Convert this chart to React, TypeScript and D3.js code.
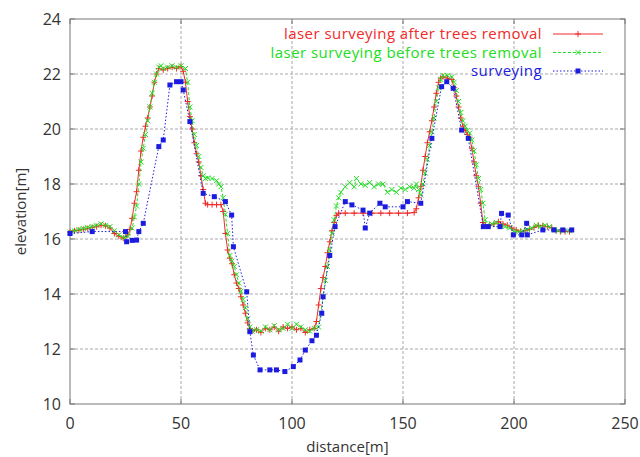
import React from 'react';
import * as d3 from 'd3';

const W = 640;
const H = 457;
const M = { left: 70, right: 15, top: 19, bottom: 53 };

const xTicks = [0, 50, 100, 150, 200, 250];
const yTicks = [10, 12, 14, 16, 18, 20, 22, 24];

// laser surveying after trees removal
const afterDist = [0, 2, 4, 6, 8, 10, 12, 14, 16, 18, 20, 22, 24, 26, 27, 28, 29, 30, 31, 32, 33, 34, 35, 36, 37, 38, 39, 40, 42, 44, 46, 48, 50, 51, 52, 53, 54, 55, 56, 57, 58, 59, 60, 61, 62, 64, 66, 68, 69, 70, 71, 72, 73, 74, 75, 76, 77, 78, 79, 80, 81, 82, 84, 86, 88, 90, 92, 94, 96, 98, 100, 102, 104, 106, 108, 110, 111, 112, 113, 114, 115, 116, 117, 118, 119, 120, 121, 124, 128, 132, 136, 140, 144, 148, 152, 155, 156, 157, 158, 159, 160, 161, 162, 163, 164, 165, 166, 167, 168, 170, 172, 173, 174, 175, 176, 177, 178, 179, 180, 181, 182, 183, 184, 185, 186, 187, 189, 191, 193, 195, 197, 199, 201, 203, 205, 207, 209, 211, 213, 215, 217, 219, 221, 223, 225];
const afterElev = [16.25, 16.3, 16.32, 16.35, 16.38, 16.42, 16.45, 16.5, 16.48, 16.4, 16.2, 16.1, 16.03, 16.15, 16.35, 16.75, 17.3, 17.72, 18.5, 19.2, 19.7, 20.1, 20.4, 20.8, 21.2, 21.7, 22.0, 22.2, 22.15, 22.2, 22.25, 22.2, 22.27, 22.1, 21.7, 21.0, 20.45, 20.0, 19.5, 19.1, 18.8, 18.3, 17.8, 17.3, 17.25, 17.25, 17.25, 17.25, 17.0, 16.2, 15.6, 15.3, 15.1, 14.7, 14.4, 14.2, 13.9, 13.6, 13.3, 12.95, 12.75, 12.65, 12.7, 12.6, 12.75, 12.7, 12.8, 12.65, 12.8, 12.75, 12.8, 12.7, 12.75, 12.6, 12.7, 12.75, 13.0, 13.6, 14.2, 14.6, 15.0, 15.5, 15.9, 16.3, 16.6, 16.85, 16.94, 16.94, 16.94, 16.94, 16.94, 16.94, 16.94, 16.94, 16.94, 16.96, 17.1, 17.5, 17.9, 18.5, 19.0, 19.5, 19.9, 20.3, 20.8, 21.3, 21.7, 21.85, 21.9, 21.85, 21.8, 21.5, 21.2, 20.8, 20.4, 20.1, 19.95, 19.8, 19.7, 19.3, 18.8, 18.3, 17.9, 17.3, 16.6, 16.5, 16.5, 16.55, 16.63, 16.55, 16.5, 16.4, 16.33, 16.27, 16.3, 16.35, 16.42, 16.5, 16.48, 16.45, 16.4, 16.3, 16.27, 16.27, 16.27];

// laser surveying before trees removal
const beforeDist = [0, 2, 4, 6, 8, 10, 12, 14, 16, 18, 20, 22, 24, 26, 28, 29, 30, 31, 32, 33, 34, 35, 36, 37, 38, 39, 40, 41, 42, 44, 46, 48, 50, 52, 53, 54, 55, 56, 57, 58, 59, 60, 61, 62, 64, 66, 67, 68, 69, 70, 71, 72, 73, 74, 75, 76, 77, 78, 79, 80, 81, 82, 84, 86, 88, 90, 92, 94, 96, 98, 100, 102, 104, 106, 108, 110, 112, 113, 114, 115, 116, 117, 118, 119, 120, 121, 122, 124, 126, 128, 129, 131, 133, 135, 137, 139, 141, 143, 145, 147, 149, 151, 153, 155, 156, 157, 158, 159, 160, 161, 162, 163, 164, 165, 166, 167, 168, 170, 172, 173, 174, 175, 176, 177, 178, 179, 180, 181, 182, 183, 184, 185, 186, 187, 188, 190, 192, 194, 196, 198, 200, 202, 204, 206, 208, 210, 212, 214, 216, 218, 220, 222, 225];
const beforeElev = [16.25, 16.3, 16.35, 16.38, 16.42, 16.45, 16.5, 16.55, 16.5, 16.45, 16.3, 16.15, 16.05, 16.1, 16.4, 16.8, 17.2, 18.0, 18.8, 19.3, 19.8, 20.3, 20.8, 21.3, 21.7, 22.0, 22.25, 22.3, 22.2, 22.25, 22.3, 22.25, 22.3, 22.2, 21.7, 20.8, 20.3, 19.8, 19.4, 19.0, 18.6, 18.3, 18.2, 18.22, 18.2, 18.12, 18.0, 17.9, 17.5, 16.9, 16.2, 15.4, 15.2, 15.0, 14.7, 14.4, 14.1, 13.8, 13.5, 13.1, 12.8, 12.65, 12.7, 12.65, 12.8, 12.7, 12.85, 12.7, 12.75, 12.9, 12.75, 12.9, 12.8, 12.7, 12.65, 12.75, 12.8, 13.3, 13.9, 14.5, 15.0, 15.6, 16.2, 16.7, 17.2, 17.5, 17.7, 17.9, 18.05, 17.9, 18.2, 18.0, 17.95, 18.05, 17.9, 18.0, 18.0, 17.7, 17.8, 17.7, 17.85, 17.8, 17.9, 17.85, 18.0, 17.8, 17.6, 18.0, 18.4, 18.9, 19.4, 19.9, 20.4, 21.0, 21.5, 21.8, 21.95, 21.95, 21.9, 21.7, 21.4, 21.0, 20.6, 20.3, 20.1, 19.95, 19.85, 19.6, 19.2, 18.7, 18.2, 17.8, 17.3, 16.7, 16.5, 16.55, 16.6, 16.5, 16.45, 16.4, 16.3, 16.25, 16.3, 16.35, 16.4, 16.5, 16.45, 16.5, 16.45, 16.35, 16.3, 16.3, 16.3];

// surveying
const surveyDist = [0, 10, 25, 25.5, 28, 30, 31, 33, 40, 42, 45, 48, 50, 51, 54, 60, 65, 70, 72.8, 73.6, 79.6, 81, 82.6, 85.6, 90, 93, 96.8, 100.6, 103.6, 106, 109, 111, 113.4, 114, 117, 119.4, 124, 127, 132, 133, 135, 139.6, 142, 150, 152, 158, 163, 167.4, 169.7, 172.6, 176.4, 179.4, 186.2, 188.4, 193.7, 194.4, 197.4, 199.7, 203.5, 205.7, 206, 213, 218, 222, 226];
const surveyElev = [16.2, 16.27, 16.27, 15.9, 15.95, 15.96, 16.27, 16.57, 19.36, 19.6, 21.6, 21.72, 21.72, 21.42, 20.27, 17.66, 17.54, 17.36, 16.87, 15.72, 14.08, 12.63, 11.78, 11.24, 11.24, 11.24, 11.18, 11.36, 11.6, 11.96, 12.3, 12.5, 13.3, 13.9, 15.4, 16.45, 17.36, 17.24, 17.05, 16.4, 16.94, 17.3, 17.17, 17.17, 17.36, 17.3, 19.66, 21.54, 21.72, 21.48, 19.96, 19.66, 16.45, 16.45, 16.45, 16.93, 16.87, 16.15, 16.15, 16.57, 16.15, 16.33, 16.33, 16.33, 16.33];

const legendLabels = [
  'laser surveying after trees removal',
  'laser surveying before trees removal',
  'surveying',
];

const FONT = '"Open Sans", "DejaVu Sans", sans-serif';

type Series = {
  dist: number[];
  elev: number[];
  color: string;
  dash: string | undefined;
  marker: 'plus' | 'cross' | 'square';
};

const series: Series[] = [
  { dist: afterDist, elev: afterElev, color: '#f22a2a', dash: undefined, marker: 'plus' },
  { dist: beforeDist, elev: beforeElev, color: '#22dd22', dash: '3,2', marker: 'cross' },
  { dist: surveyDist, elev: surveyElev, color: '#1c1ce0', dash: '1.5,2', marker: 'square' },
];

function Marker({ kind, x, y, color }: { kind: string; x: number; y: number; color: string }) {
  if (kind === 'plus') {
    return <path d={`M${x - 3},${y}H${x + 3}M${x},${y - 3}V${y + 3}`} stroke={color} strokeWidth={1} />;
  }
  if (kind === 'cross') {
    return <path d={`M${x - 2.5},${y - 2.5}L${x + 2.5},${y + 2.5}M${x - 2.5},${y + 2.5}L${x + 2.5},${y - 2.5}`} stroke={color} strokeWidth={1} />;
  }
  return <rect x={x - 2.5} y={y - 2.5} width={5} height={5} fill={color} />;
}

export default function App() {
  const x = d3.scaleLinear().domain([0, 250]).range([M.left, W - M.right]);
  const y = d3.scaleLinear().domain([10, 24]).range([H - M.bottom, M.top]);
  const line = d3.line<[number, number]>().x(d => x(d[0])).y(d => y(d[1]));

  const x0 = x.range()[0], x1 = x.range()[1];
  const y0 = y.range()[0], y1 = y.range()[1];

  return (
    <svg width={W} height={H} style={{ position: 'absolute', left: 0, top: 0, background: '#fff' }}>
      {/* grid */}
      {xTicks.slice(1, -1).map(t => (
        <line key={'gx' + t} x1={x(t)} x2={x(t)} y1={y0} y2={y1} stroke="#a8a8a8" strokeDasharray="3,2" />
      ))}
      {yTicks.slice(1, -1).map(t => (
        <line key={'gy' + t} x1={x0} x2={x1} y1={y(t)} y2={y(t)} stroke="#a8a8a8" strokeDasharray="3,2" />
      ))}
      {/* ticks, inward on all sides */}
      {xTicks.map(t => (
        <g key={'tx' + t} stroke="#777">
          <line x1={x(t)} x2={x(t)} y1={y0} y2={y0 - 5} />
          <line x1={x(t)} x2={x(t)} y1={y1} y2={y1 + 5} />
        </g>
      ))}
      {yTicks.map(t => (
        <g key={'ty' + t} stroke="#777">
          <line x1={x0} x2={x0 + 5} y1={y(t)} y2={y(t)} />
          <line x1={x1} x2={x1 - 5} y1={y(t)} y2={y(t)} />
        </g>
      ))}
      <rect x={x0} y={y1} width={x1 - x0} height={y0 - y1} fill="none" stroke="#777" />

      {/* tick labels */}
      {xTicks.map(t => (
        <text key={'lx' + t} x={x(t)} y={y0 + 25} textAnchor="middle" fontFamily={FONT} fontSize={16} fill="#333">{t}</text>
      ))}
      {yTicks.map(t => (
        <text key={'ly' + t} x={x0 - 9} y={y(t) + 5.5} textAnchor="end" fontFamily={FONT} fontSize={16} fill="#333">{t}</text>
      ))}
      <text x={(x0 + x1) / 2} y={H - 5} textAnchor="middle" fontFamily={FONT} fontSize={15} fill="#333">distance[m]</text>
      <text transform={`translate(26,${(y0 + y1) / 2}) rotate(-90)`} textAnchor="middle" fontFamily={FONT} fontSize={15} fill="#333">elevation[m]</text>

      {/* series */}
      {series.map((s, i) => {
        const pts = s.dist.map((d, j) => [d, s.elev[j]] as [number, number]);
        return (
          <g key={'s' + i}>
            <path d={line(pts) || ''} fill="none" stroke={s.color} strokeWidth={1} strokeDasharray={s.dash} />
            {pts.map((p, j) => (
              <Marker key={j} kind={s.marker} x={x(p[0])} y={y(p[1])} color={s.color} />
            ))}
          </g>
        );
      })}

      {/* legend */}
      {series.map((s, i) => {
        const ly = 34 + i * 18.5;
        return (
          <g key={'lg' + i}>
            <text x={542} y={ly + 5} textAnchor="end" fontFamily={FONT} fontSize={15} letterSpacing={0.45} fill={s.color}>{legendLabels[i]}</text>
            <line x1={553} x2={603} y1={ly} y2={ly} stroke={s.color} strokeDasharray={s.dash} />
            <Marker kind={s.marker} x={578} y={ly} color={s.color} />
          </g>
        );
      })}
    </svg>
  );
}
